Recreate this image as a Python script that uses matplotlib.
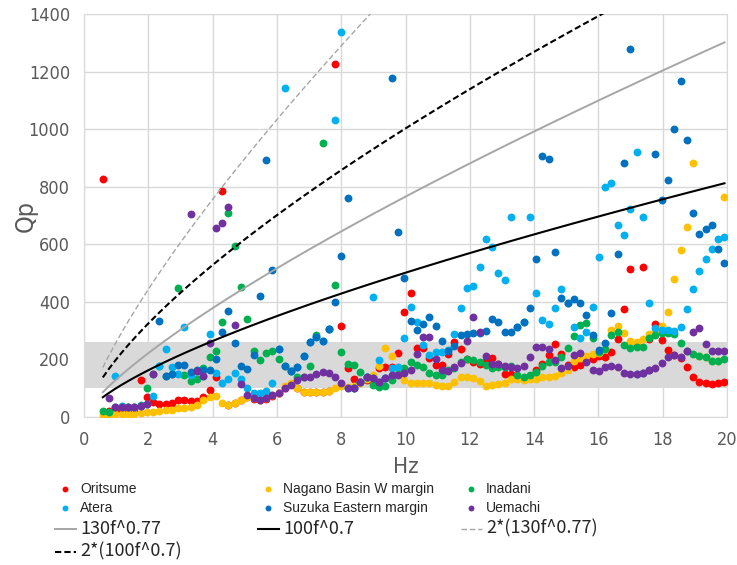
import numpy as np
import matplotlib
matplotlib.use("Agg")
import matplotlib.pyplot as plt
from matplotlib import font_manager

nan = np.nan
# FFT bins k=3..102, df = 100/512 Hz
freq = np.arange(3, 103) * 0.1953125

oritsume = [827, 20, 20, 22, 25, 28, 128, 71, 53, 45,
            45, 47, 59, 59, 57, 57, 68, 94, 138, 786,
            42, 47, 58, 70, 63, 58, 64, 74, 82, 100,
            115, 100, 88, 88, 88, 88, 90, 1225, 316, 169,
            132, 123, 130, 140, 169, 175, 172, 221, 364, 430,
            240, 238, 205, 182, 180, 220, 262, 235, 200, 192,
            185, 195, 204, 185, 151, 149, 140, 131, 140, 165,
            185, 215, 252, 219, 180, 172, 180, 195, 200, 212,
            210, 227, 270, 374, 513, 250, 522, 270, 323, 267,
            233, 215, 204, 172, 140, 123, 117, 115, 117, 123]
nagano = [7, 8, 9, 10, 11, 12, 14, 16, 18, 20,
          23, 26, 30, 33, 36, 40, 60, 68, 72, 50,
          42, 47, 58, 70, 65, 60, 66, 76, 84, 108,
          117, 102, 88, 88, 88, 88, 90, 100, 108, 105,
          108, 117, 131, 146, 177, 239, 211, 163, 128, 119,
          117, 119, 119, 111, 108, 108, 123, 140, 140, 134,
          126, 108, 111, 113, 117, 132, 132, 128, 132, 132,
          138, 138, 142, 152, 163, 195, 205, 212, 218, 222,
          235, 302, 316, 291, 265, 262, 270, 288, 300, 316,
          366, 478, 580, 661, 881, 213, 207, 196, 196, 763]
inadani = [20, 18, 36, 36, 36, 36, 42, 100, 149, 177,
           142, 149, 447, 146, 126, 132, 169, 210, 230, 331,
           707, 595, 450, 340, 229, 198, 223, 228, 200, 177,
           160, 139, 140, 176, 284, 953, 304, 458, 226, 185,
           182, 155, 140, 111, 105, 108, 129, 150, 169, 192,
           181, 175, 154, 146, 146, 163, 169, 192, 200, 198,
           192, 181, 169, 175, 175, 177, 146, 140, 146, 157,
           177, 192, 192, 207, 238, 281, 320, 328, 273, 227,
           235, 285, 296, 250, 238, 242, 244, 273, 285, 292,
           293, 288, 258, 230, 219, 213, 207, 196, 196, 200]
atera = [nan, nan, 143, 38, 36, 36, 38, 45, 73, 177,
         236, 175, 150, 311, 146, 160, 143, 288, 152, 119,
         131, 152, 131, 100, 85, 85, 90, 118, 235, 1142,
         160, 175, 212, 262, 277, 265, 304, 1031, 1338, 100,
         100, 123, 138, 418, 198, 134, 170, 175, 273, 383,
         331, 250, 215, 225, 227, 233, 290, 377, 447, 456,
         522, 617, 592, 501, 476, 696, 314, 329, 696, 432,
         337, 323, 377, 443, 397, 314, 273, 296, 381, 555,
         798, 812, 667, 632, 722, 922, 696, 397, 308, 302,
         302, 300, 314, 374, 443, 508, 549, 582, 617, 624]
suzuka = [nan, nan, nan, nan, nan, nan, nan, nan, nan, 335,
          142, 149, 180, 180, 155, 163, 163, 163, 201, 296,
          369, 258, 178, 167, 214, 421, 893, 511, 235, 177,
          160, 175, 212, 262, 277, 265, 304, 400, 559, 760,
          100, 123, 138, 134, 123, 134, 1178, 641, 482, 335,
          302, 323, 348, 316, 264, 230, 247, 285, 288, 293,
          293, 299, 339, 331, 296, 296, 314, 329, 377, 548,
          907, 896, 572, 414, 397, 409, 397, 354, 285, 233,
          256, 362, 566, 883, 1277, 149, 154, 163, 913, 754,
          823, 999, 1168, 962, 707, 634, 653, 667, 582, 536]
uemachi = [nan, 65, 36, 36, 36, 36, 38, 45, 149, nan,
           nan, nan, nan, nan, 705, 161, 143, 258, 657, 675,
           730, 320, 115, 76, 65, 59, 65, 76, 82, 100,
           111, 128, 138, 140, 149, 157, 154, 138, 119, 100,
           100, 123, 138, 134, 123, 134, 146, 146, 152, 163,
           220, 277, 279, 200, 163, 160, 172, 189, 264, 346,
           296, 212, 184, 184, 177, 175, 169, 177, 210, 242,
           244, 235, 198, 169, 177, 215, 221, 192, 165, 161,
           172, 177, 172, 154, 149, 149, 154, 163, 169, 186,
           210, 215, 210, 230, 296, 308, 253, 230, 230, 230]

series_names = ["Oritsume", "Nagano Basin W margin", "Inadani",
                "Atera", "Suzuka Eastern margin", "Uemachi"]
series_vals = [oritsume, nagano, inadani, atera, suzuka, uemachi]
series_cols = ["#FF0000", "#FFC000", "#00B050", "#00B0F0", "#0070C0", "#7030A0"]

band = (100, 260)

# narrow face for the axis text, like the original
axfont = font_manager.FontProperties(family="DejaVu Sans", stretch="condensed")
cjk = "Noto Sans CJK JP"

fig = plt.figure(figsize=(7.37, 5.65), dpi=100)
ax = fig.add_axes([84/737, 1-417/565, 643/737, 403/565])

ax.axhspan(band[0], band[1], color="#D9D9D9", zorder=1, lw=0)
handles = {}
for name, vals, c in zip(series_names, series_vals, series_cols):
    handles[name] = ax.scatter(freq, vals, s=32, color=c, zorder=3, lw=0, label=name)

# Qp model curves a*f^b
curves = [("130f^0.77", 130, 0.77, "#A6A6A6", "-", 1.4),
          ("100f^0.7", 100, 0.7, "black", "-", 1.5),
          ("2*(130f^0.77)", 260, 0.77, "#A6A6A6", (0, (4, 2)), 1.0),
          ("2*(100f^0.7)", 200, 0.7, "black", (0, (3, 1.5)), 1.5)]
for lab, a, b, c, ls, lw in curves:
    h, = ax.plot(freq, a * freq ** b, color=c, ls=ls, lw=lw, zorder=4, label=lab)
    handles[lab] = h

ax.set_xlim(0, 20)
ax.set_ylim(0, 1400)
ax.set_xticks(np.arange(0, 21, 2))
ax.set_yticks(np.arange(0, 1401, 200))
ax.grid(True, color="#D9D9D9", lw=1, zorder=0)
ax.set_axisbelow(True)
for sp in ax.spines.values():
    sp.set_color("#D9D9D9")
ax.tick_params(length=0, labelcolor="#595959", pad=10)
for t in ax.get_xticklabels() + ax.get_yticklabels():
    t.set_fontproperties(axfont)
    t.set_fontsize(13)
ax.set_xlabel("Hz", color="#595959", fontproperties=axfont)
ax.set_ylabel("Qp", color="#595959", fontproperties=axfont)
ax.xaxis.label.set_size(16)
ax.yaxis.label.set_size(18)
ax.xaxis.set_label_coords(0.5, -0.10)
ax.yaxis.set_label_coords(-0.072, 0.5)

cols = [(["Oritsume", "Atera", "130f^0.77", "2*(100f^0.7)"], 55),
        (["Nagano Basin W margin", "Suzuka Eastern margin", "100f^0.7"], 258),
        (["Inadani", "Uemachi", "2*(130f^0.77)"], 461)]
for names, x0 in cols:
    leg = fig.legend([handles[n] for n in names], names, loc="upper left",
                     bbox_to_anchor=(x0/737, 1-482/565), frameon=False,
                     fontsize=10, handlelength=1.5, handletextpad=0.3,
                     labelspacing=0.35, borderaxespad=0, borderpad=0,
                     scatterpoints=1, markerscale=0.75)
    for t in leg.get_texts():
        if "f^" in t.get_text():
            t.set_family(cjk)
            t.set_fontsize(13)
        else:
            t.set_family("Liberation Sans")
        t.set_color("#262626")

fig.savefig("out.png", dpi=100)
